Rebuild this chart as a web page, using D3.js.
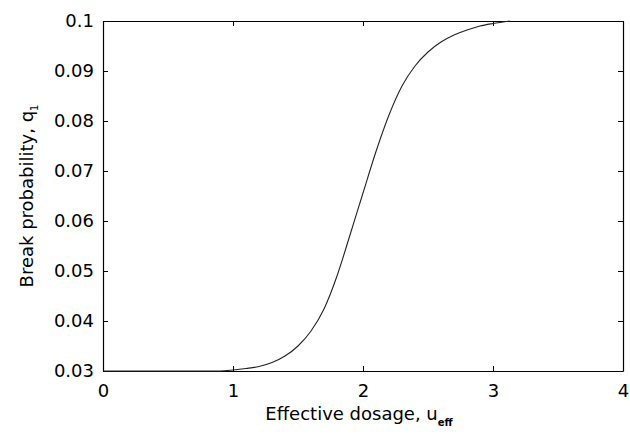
<!DOCTYPE html>
<html>
<head>
<meta charset="utf-8">
<script src="https://cdn.jsdelivr.net/npm/d3@7"></script>
<style>
  body { margin: 0; background: #fff; }
  text { font-family: "DejaVu Sans", sans-serif; fill: #000; }
</style>
</head>
<body>
<div id="chart"></div>
<script>
// effective dosage (x) and break probability (y)
var dosage = [0, 0.5, 0.8, 0.9, 1.0, 1.1, 1.2, 1.3, 1.4, 1.5, 1.6, 1.7, 1.8, 1.9, 2.0,
              2.1, 2.2, 2.3, 2.4, 2.5, 2.6, 2.7, 2.8, 2.9, 3.0, 3.13];
var breakProb = [0.0300, 0.0300, 0.0300, 0.0300, 0.0302, 0.0305, 0.0309, 0.0317, 0.0330, 0.0350,
                 0.0380, 0.0424, 0.0490, 0.0572, 0.0656, 0.0739, 0.0812, 0.0870, 0.0910, 0.0938,
                 0.0958, 0.0972, 0.0982, 0.0990, 0.0995, 0.1000];

var xTicks = [0, 1, 2, 3, 4];
var yTicks = [0.03, 0.04, 0.05, 0.06, 0.07, 0.08, 0.09, 0.1];

var width = 630, height = 439;
var margin = { left: 103, right: 7, top: 21, bottom: 68 };
var plotW = width - margin.left - margin.right;
var plotH = height - margin.top - margin.bottom;
var tickLen = 5;

var svg = d3.select("#chart").append("svg")
    .attr("width", width)
    .attr("height", height);

var g = svg.append("g")
    .attr("transform", "translate(" + margin.left + "," + margin.top + ")");

var x = d3.scaleLinear().domain([0, 4]).range([0, plotW]);
var y = d3.scaleLinear().domain([0.03, 0.1]).range([plotH, 0]);

// axes: ticks point inward, MATLAB style, on all four sides
var fmt = function (d) { return d3.format("")(+d.toFixed(2)); };

var xBottom = g.append("g")
    .attr("transform", "translate(0," + plotH + ")")
    .call(d3.axisBottom(x).tickValues(xTicks).tickSizeInner(-tickLen).tickSizeOuter(0).tickPadding(13).tickFormat(fmt));
var xTop = g.append("g")
    .call(d3.axisTop(x).tickValues(xTicks).tickSizeInner(-tickLen).tickSizeOuter(0).tickFormat(""));
var yLeft = g.append("g")
    .call(d3.axisLeft(y).tickValues(yTicks).tickSizeInner(-tickLen).tickSizeOuter(0).tickPadding(9).tickFormat(fmt));
var yRight = g.append("g")
    .attr("transform", "translate(" + plotW + ",0)")
    .call(d3.axisRight(y).tickValues(yTicks).tickSizeInner(-tickLen).tickSizeOuter(0).tickFormat(""));

[xBottom, xTop, yLeft, yRight].forEach(function (a) {
    a.select(".domain").attr("stroke", "#000").attr("stroke-width", 1.2);
    a.selectAll(".tick line").attr("stroke", "#000");
    a.selectAll("text")
        .style("font-size", "18px")
        .style("font-family", "'DejaVu Sans', sans-serif")
        .attr("fill", "#222");
});

// the curve
var line = d3.line()
    .x(function (d, i) { return x(dosage[i]); })
    .y(function (d) { return y(d); })
    .curve(d3.curveMonotoneX);

g.append("path")
    .datum(breakProb)
    .attr("d", line)
    .attr("fill", "none")
    .attr("stroke", "#222")
    .attr("stroke-width", 1.1);

// axis labels
var xl = svg.append("text")
    .attr("x", margin.left + plotW / 2 - 4)
    .attr("y", 420)
    .attr("text-anchor", "middle")
    .attr("fill", "#222")
    .style("font-size", "18px");
xl.append("tspan").text("Effective dosage, u");
xl.append("tspan").attr("dy", 6).style("font-size", "10px").style("font-weight", "bold").text("eff");

var yl = svg.append("text")
    .attr("transform", "translate(33," + (margin.top + plotH / 2) + ") rotate(-90)")
    .attr("text-anchor", "middle")
    .attr("fill", "#222")
    .style("font-size", "18px");
yl.append("tspan").text("Break probability, q");
yl.append("tspan").attr("dy", 5).style("font-size", "10px").text("1");
</script>
</body>
</html>
